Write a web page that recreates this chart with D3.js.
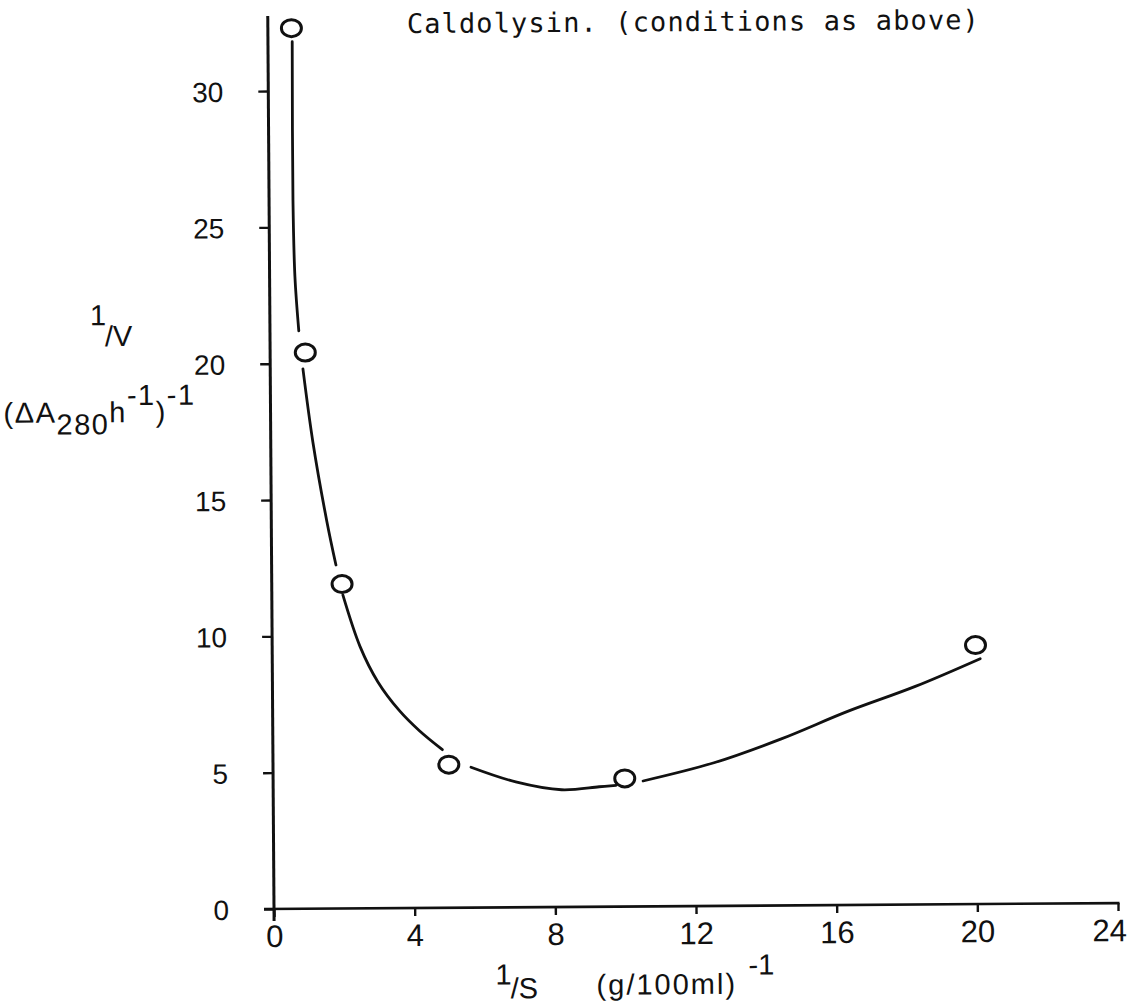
<!DOCTYPE html>
<html>
<head>
<meta charset="utf-8">
<script src="https://cdn.jsdelivr.net/npm/d3@7"></script>
<style>
  html, body { margin: 0; padding: 0; background: #fff; }
  svg { display: block; }
</style>
</head>
<body>
<svg id="chart" width="1128" height="1005"></svg>
<script>
// ---- data ----
const xTickValues = [0, 4, 8, 12, 16, 20, 24];
const yTickValues = [0, 5, 10, 15, 20, 25, 30];
const invS = [0.67, 1, 2, 5, 10, 20];            // 1/S (g/100ml)^-1
const invV = [32.3, 20.4, 11.9, 5.25, 4.7, 9.5]; // 1/V (ΔA280 h^-1)^-1
// hand-drawn fitted curve, drawn in pieces broken around the circles
const curveA = [[0.69, 31.8], [0.68, 26.0], [0.72, 23.2], [0.82, 21.2]];
const curveB = [[0.93, 19.8], [1.2, 17.1], [1.58, 14.2], [1.83, 12.6]];
const curveC = [[2.02, 11.5], [2.5, 9.6], [3.0, 8.3], [3.6, 7.25], [4.17, 6.5], [4.82, 5.8]];
const curveD = [[5.63, 5.15], [6.9, 4.6], [8.2, 4.3], [9.27, 4.4], [9.75, 4.45]];
const curveE = [[10.52, 4.6], [12.54, 5.25], [14.44, 6.1], [16.35, 7.1], [18.28, 8.0], [20.13, 9.0]];
const titleText = "Caldolysin. (conditions as above)";

// ---- layout ----
const svg = d3.select("#chart");
const x = d3.scaleLinear().domain([0, 24]).range([274, 1118]);
const y = d3.scaleLinear().domain([0, 30]).range([909, 91]);
const ink = "#111";
const sansFont = "'Liberation Sans', Arial, sans-serif";
const g = svg.append("g").attr("transform", "rotate(-0.4, 274, 909)");

// axes lines
g.append("line").attr("x1", x(0)).attr("x2", x(0))
  .attr("y1", y(32.75)).attr("y2", y(0) + 12)
  .attr("stroke", ink).attr("stroke-width", 3);
g.append("line").attr("x1", x(0) - 10).attr("x2", x(24) + 1.5)
  .attr("y1", y(0)).attr("y2", y(0))
  .attr("stroke", ink).attr("stroke-width", 2.6);

// x axis ticks
const xAxis = d3.axisBottom(x).tickValues(xTickValues).tickSize(8).tickSizeOuter(0).tickFormat(d3.format("d"));
const gx = g.append("g").attr("transform", `translate(0,${y(0)})`).call(xAxis);
gx.select(".domain").remove();
gx.selectAll(".tick line").attr("stroke", ink).attr("stroke-width", 2.4);
gx.selectAll(".tick text")
  .attr("y", 38).attr("dy", 0)
  .attr("x", d => d === 24 ? -9 : 0)
  .attr("fill", ink)
  .style("font-family", sansFont)
  .style("font-size", "31px");

// y axis ticks
const yAxis = d3.axisLeft(y).tickValues(yTickValues).tickSize(10).tickSizeOuter(0).tickFormat(d3.format("d"));
const gy = g.append("g").attr("transform", `translate(${x(0)},0)`).call(yAxis);
gy.select(".domain").remove();
gy.selectAll(".tick line").attr("stroke", ink).attr("stroke-width", 2.4);
gy.selectAll(".tick text")
  .attr("x", -45).attr("dy", "0.36em")
  .attr("fill", ink)
  .style("font-family", sansFont)
  .style("font-size", "28px");

// fitted curve
const line = d3.line().x(d => x(d[0])).y(d => y(d[1])).curve(d3.curveCatmullRom.alpha(0.5));
[curveA, curveB, curveC, curveD, curveE].forEach(seg => {
  g.append("path").attr("d", line(seg))
    .attr("fill", "none").attr("stroke", ink).attr("stroke-width", 2.8)
    .attr("stroke-linecap", "round");
});

// data circles
g.selectAll("ellipse.pt").data(invS.map((s, i) => [s, invV[i]])).enter()
  .append("ellipse").attr("class", "pt")
  .attr("cx", d => x(d[0])).attr("cy", d => y(d[1]))
  .attr("rx", 10).attr("ry", 8.5)
  .attr("fill", "#fff").attr("stroke", ink).attr("stroke-width", 3);

// title
g.append("text").attr("x", 413).attr("y", 34)
  .attr("textLength", 572).attr("lengthAdjust", "spacing")
  .attr("fill", ink)
  .style("font-family", "'DejaVu Sans Mono', 'Liberation Mono', monospace")
  .style("font-size", "27px")
  .text(titleText);

// y axis label: 1/V
const yl = g.append("g").attr("fill", ink).style("font-family", sansFont).style("font-size", "29px");
yl.append("text").attr("x", 94).attr("y", 324).text("1");
yl.append("text").attr("x", 109).attr("y", 345).text("/V");
// (ΔA280 h-1)-1
const yl2 = yl.append("text").attr("x", 7).attr("y", 421).style("letter-spacing", "1.5px");
yl2.append("tspan").text("(ΔA");
yl2.append("tspan").attr("dy", 12).text("280");
yl2.append("tspan").attr("dy", -12).text("h");
yl2.append("tspan").attr("dy", -17).text("-1");
yl2.append("tspan").attr("dy", 17).text(")");
yl2.append("tspan").attr("dy", -17).text("-1");

// x axis label: 1/S (g/100ml)-1
const xl = g.append("g").attr("fill", ink).style("font-family", sansFont).style("font-size", "29px");
xl.append("text").attr("x", 495).attr("y", 986).text("1");
xl.append("text").attr("x", 510).attr("y", 1000).text("/S");
xl.append("text").attr("x", 596).attr("y", 997).style("letter-spacing", "2px").text("(g/100ml)");
xl.append("text").attr("x", 748).attr("y", 978).text("-1");
</script>
</body>
</html>
